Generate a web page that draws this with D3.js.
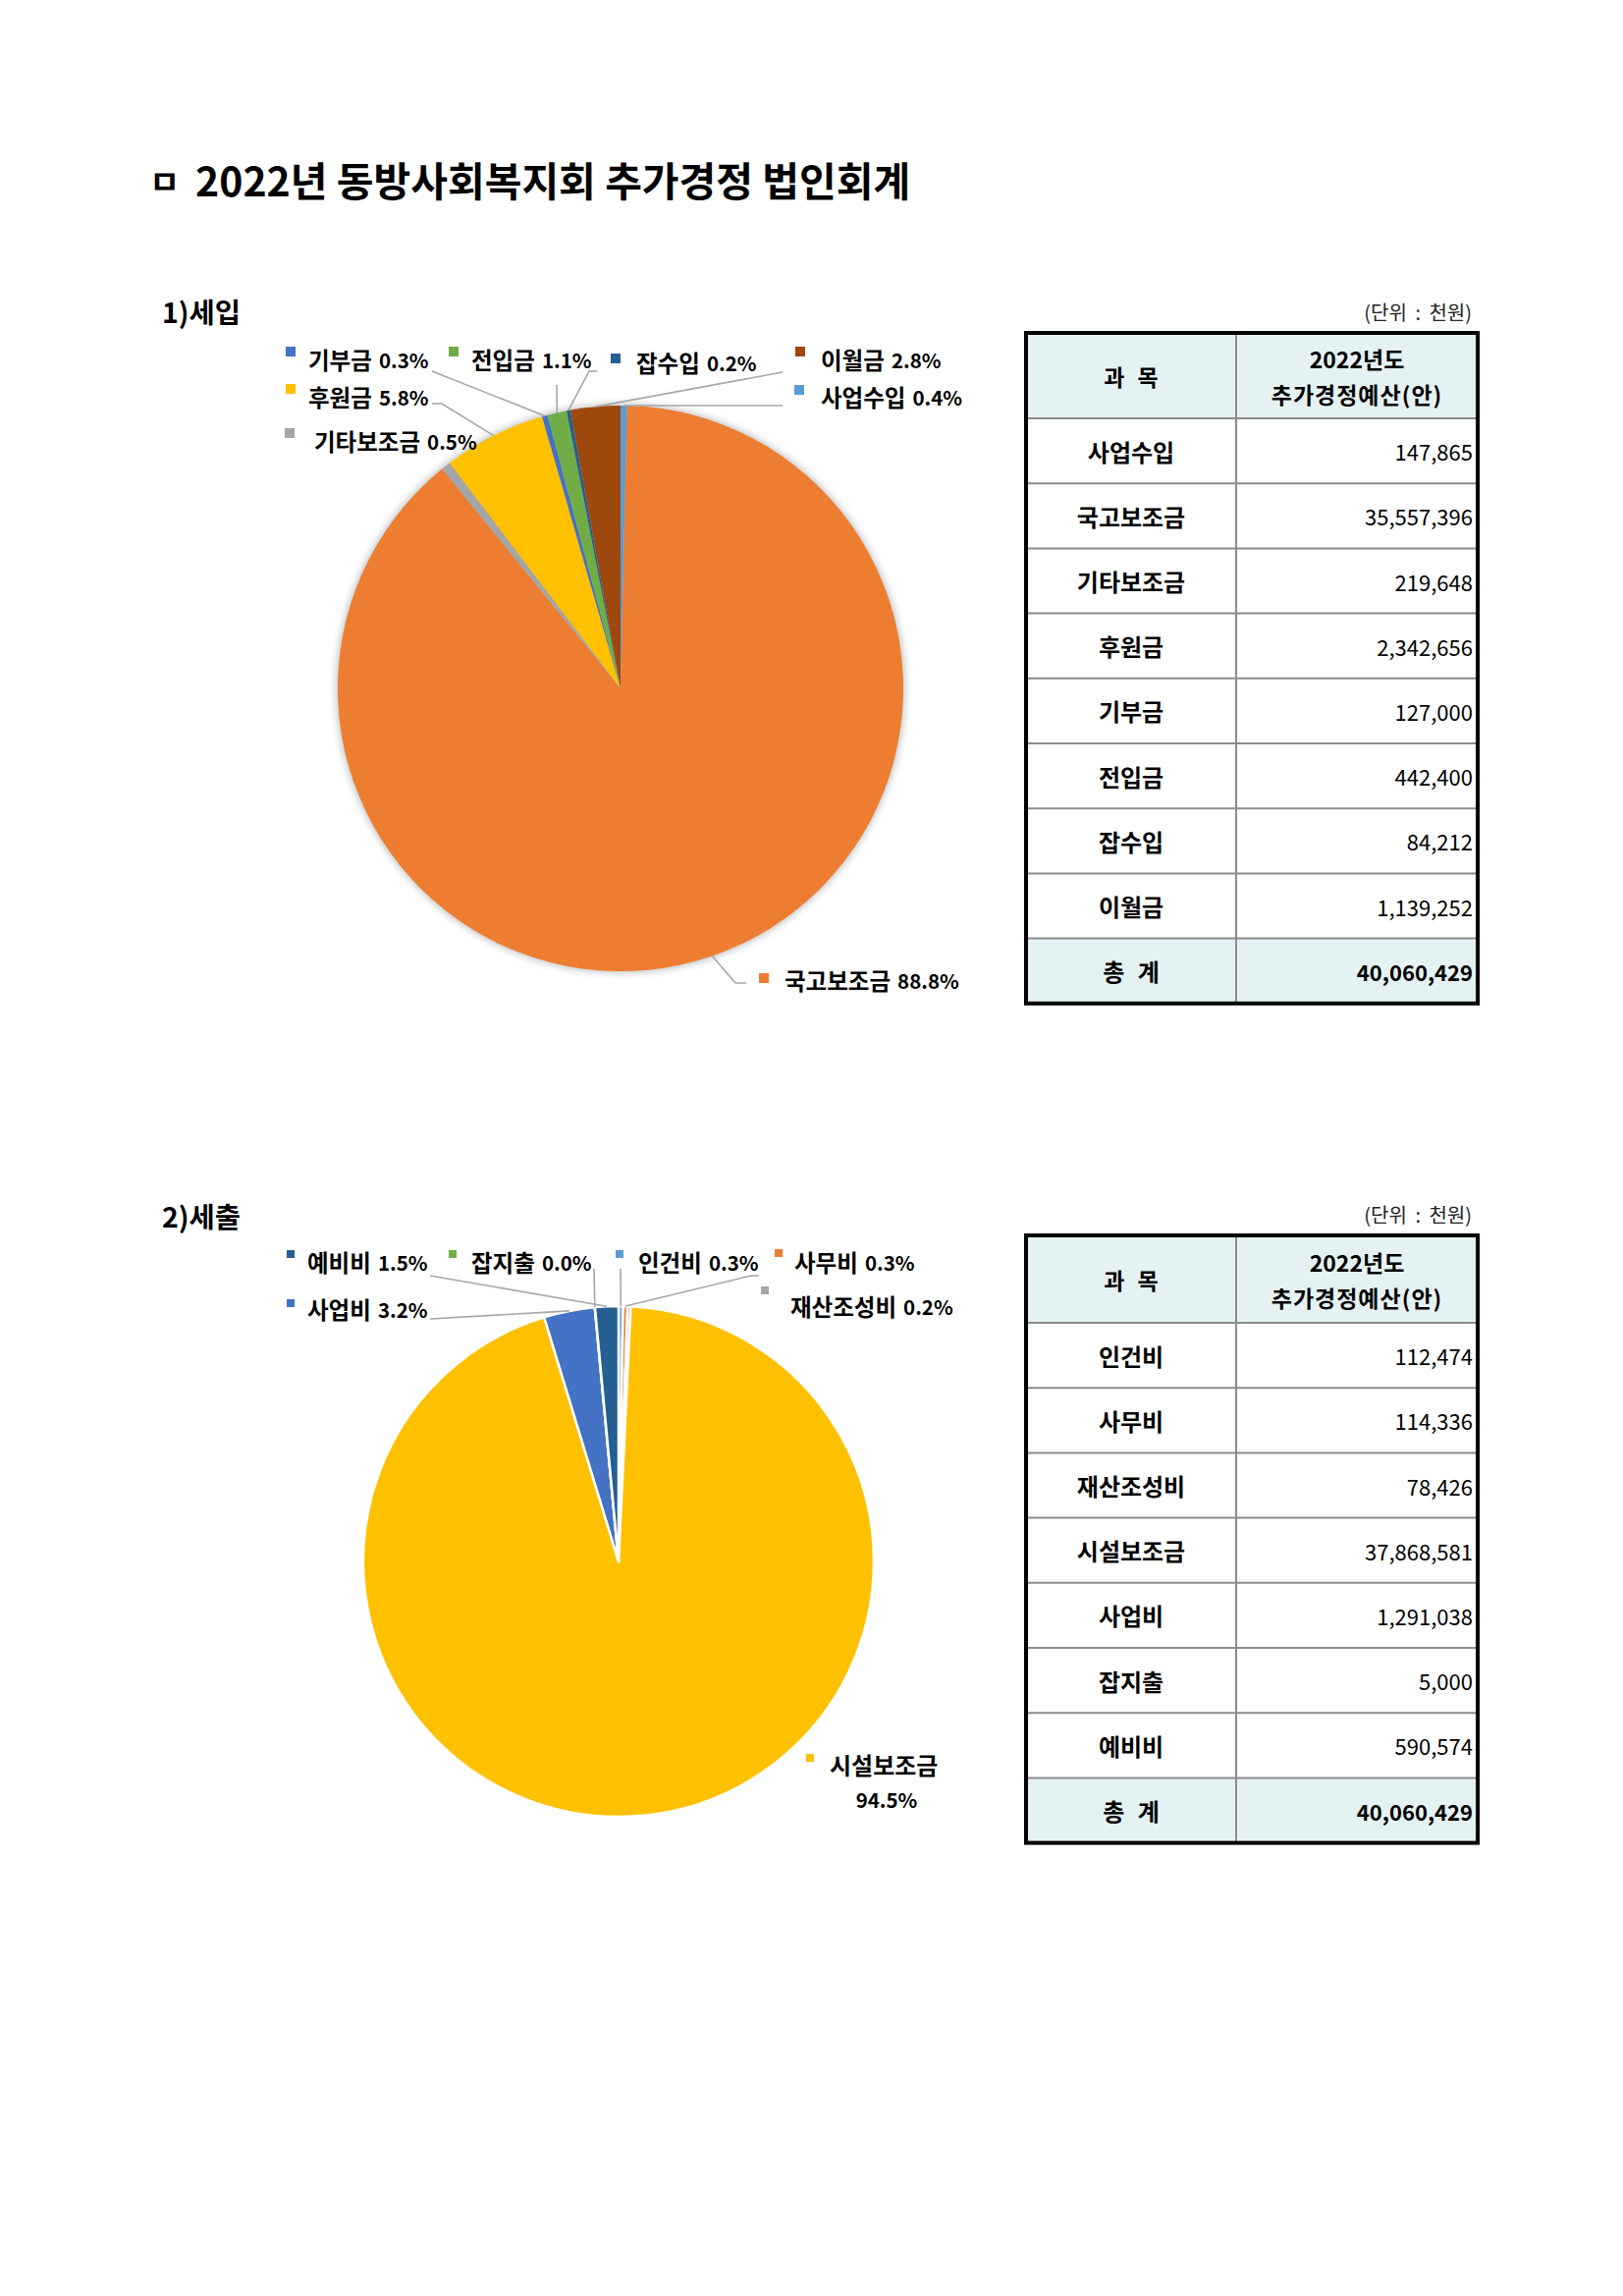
<!DOCTYPE html>
<html>
<head>
<meta charset="utf-8">
<script src="https://cdn.jsdelivr.net/npm/d3@7"></script>
<style>
  body { margin: 0; background: #fff; }
  svg { display: block; }
  text { font-family: "Noto Sans CJK KR", "Malgun Gothic", sans-serif; }
</style>
</head>
<body>
<svg id="page"></svg>
<script>
// data
const incomeItems = ["사업수입", "국고보조금", "기타보조금", "후원금", "기부금", "전입금", "잡수입", "이월금"];
const incomeValues = [147865, 35557396, 219648, 2342656, 127000, 442400, 84212, 1139252];

const expenseItems = ["인건비", "사무비", "재산조성비", "시설보조금", "사업비", "잡지출", "예비비"];
const expenseValues = [112474, 114336, 78426, 37868581, 1291038, 5000, 590574];

const officeColors = ["#5B9BD5", "#ED7D31", "#A5A5A5", "#FFC000", "#4472C4", "#70AD47", "#255E91", "#9E480E"];

// label placement (layout only): text start, marker center, leader start points
const incomeLabelPos = [
  { x: 836, y: 404, mx: 814, my: 397, lead: [[797, 413]] },
  { x: 799, y: 998, mx: 778, my: 996, lead: [[760, 1001], [749, 1001]] },
  { x: 320, y: 449, mx: 295, my: 441, lead: null },
  { x: 314, y: 404, mx: 296, my: 396, lead: [[440, 411], [450, 411]] },
  { x: 314, y: 366, mx: 296, my: 358, lead: [[440, 378]] },
  { x: 480, y: 366, mx: 462, my: 358, lead: [[567, 392]] },
  { x: 648, y: 369, mx: 627, my: 365, lead: [[608, 378], [600, 378]] },
  { x: 836, y: 366, mx: 815, my: 358, lead: [[797, 379]] },
];

const expenseLabelPos = [
  { x: 650, y: 1285, mx: 631, my: 1277, lead: [[632, 1292]] },
  { x: 809, y: 1285, mx: 793, my: 1276, lead: [[773, 1299], [765, 1299]] },
  { x: 805, y: 1330, mx: 779, my: 1314, lead: null },
  { x: 845, y: 1796, mx: 825, my: 1790, lead: null, twoLine: true },
  { x: 313, y: 1333, mx: 296, my: 1327, lead: [[438, 1343]] },
  { x: 480, y: 1285, mx: 461, my: 1277, lead: [[605, 1292]] },
  { x: 313, y: 1285, mx: 296, my: 1277, lead: [[438, 1299]] },
];

const W = 1653, H = 2338;
const fmtPct = d3.format(".1%");
const fmtNum = d3.format(",");

const svg = d3.select("#page").attr("width", W).attr("height", H);
svg.append("rect").attr("width", W).attr("height", H).attr("fill", "#fff");

const defs = svg.append("defs");
defs.append("filter").attr("id", "pieShadow")
  .attr("x", "-10%").attr("y", "-10%").attr("width", "120%").attr("height", "120%")
  .append("feGaussianBlur").attr("stdDeviation", 4);

// title
svg.append("text")
  .attr("x", 152).attr("y", 183)
  .attr("dominant-baseline", "central")
  .attr("font-size", 34).attr("font-weight", 700)
  .text("ㅁ");
svg.append("text")
  .attr("x", 199).attr("y", 182)
  .attr("dominant-baseline", "central")
  .attr("font-size", 41).attr("font-weight", 700)
  .text("2022년 동방사회복지회 추가경정 법인회계");

function drawPie(opts) {
  const { items, values, pos, cx, cy, r, markerSize, sliceStroke, shadow } = opts;
  const total = d3.sum(values);
  const pie = d3.pie().sort(null).value((d) => d);
  const arcs = pie(values);
  const arc = d3.arc().innerRadius(0).outerRadius(r);

  const g = svg.append("g").attr("transform", `translate(${cx},${cy})`);

  if (shadow) {
    g.append("circle")
      .attr("r", r + 1)
      .attr("fill", "#000")
      .attr("opacity", 0.28)
      .attr("filter", "url(#pieShadow)");
  }

  g.selectAll("path")
    .data(arcs)
    .join("path")
    .attr("d", arc)
    .attr("fill", (d, i) => officeColors[i])
    .attr("stroke", sliceStroke ? "#fff" : "none")
    .attr("stroke-width", sliceStroke ? 2.5 : 0)
    .attr("stroke-linejoin", "round");

  // leader lines
  const lines = svg.append("g");
  arcs.forEach((a, i) => {
    const p = pos[i];
    if (!p.lead) return;
    const mid = (a.startAngle + a.endAngle) / 2;
    const end = [cx + r * Math.sin(mid), cy - r * Math.cos(mid)];
    lines.append("path")
      .attr("d", d3.line()([...p.lead, end]))
      .attr("fill", "none")
      .attr("stroke", "#A6A6A6")
      .attr("stroke-width", 1.6);
  });

  // labels
  const labels = svg.append("g");
  arcs.forEach((a, i) => {
    const p = pos[i];
    labels.append("rect")
      .attr("x", p.mx - markerSize / 2)
      .attr("y", p.my - markerSize / 2)
      .attr("width", markerSize)
      .attr("height", markerSize)
      .attr("fill", officeColors[i]);
    const pct = fmtPct(values[i] / total);
    if (p.twoLine) {
      labels.append("text")
        .attr("x", p.x).attr("y", p.y)
        .attr("dominant-baseline", "central")
        .attr("font-size", 24).attr("font-weight", 700)
        .attr("fill", "#000")
        .text(items[i]);
      labels.append("text")
        .attr("x", p.x + 58).attr("y", p.y + 36)
        .attr("text-anchor", "middle")
        .attr("dominant-baseline", "central")
        .attr("font-size", 20.5).attr("font-weight", 700)
        .attr("fill", "#000")
        .text(pct);
    } else {
      const t = labels.append("text")
        .attr("x", p.x).attr("y", p.y)
        .attr("dominant-baseline", "central")
        .attr("font-weight", 700)
        .attr("fill", "#000");
      t.append("tspan").attr("font-size", 23.5).text(items[i]);
      t.append("tspan").attr("font-size", 20.5).attr("dx", 7).text(pct);
    }
  });
}

function drawTable(opts) {
  const { items, values, top, headH, rowH } = opts;
  const x0 = 1045, x1 = 1259, x2 = 1505;
  const total = d3.sum(values);
  const rows = items.map((d, i) => ({ name: d, value: values[i], total: false }));
  rows.push({ name: "총 계", value: total, total: true });

  const bottom = top + headH + rows.length * rowH;
  const g = svg.append("g");

  // unit
  g.append("text")
    .attr("x", 1499).attr("y", top - 22)
    .attr("text-anchor", "end")
    .attr("dominant-baseline", "central")
    .attr("font-size", 20).attr("fill", "#222")
    .attr("word-spacing", 4)
    .text("(단위 : 천원)");

  // header + total fills
  g.append("rect").attr("x", x0).attr("y", top).attr("width", x2 - x0).attr("height", headH).attr("fill", "#E4F2F4");
  g.append("rect").attr("x", x0).attr("y", bottom - rowH).attr("width", x2 - x0).attr("height", rowH).attr("fill", "#E4F2F4");

  // grid
  const grid = g.append("g").attr("stroke", "#8C8C8C").attr("stroke-width", 2);
  rows.forEach((r, i) => {
    const y = top + headH + i * rowH;
    grid.append("line").attr("x1", x0).attr("x2", x2).attr("y1", y).attr("y2", y);
  });
  grid.append("line").attr("x1", x1).attr("x2", x1).attr("y1", top).attr("y2", bottom);

  // outer border
  g.append("rect")
    .attr("x", x0).attr("y", top)
    .attr("width", x2 - x0).attr("height", bottom - top)
    .attr("fill", "none").attr("stroke", "#000").attr("stroke-width", 4);

  // header text
  const hc = top + headH / 2;
  g.append("text")
    .attr("x", (x0 + x1) / 2).attr("y", hc)
    .attr("text-anchor", "middle").attr("dominant-baseline", "central")
    .attr("font-size", 23).attr("font-weight", 700)
    .attr("word-spacing", 8)
    .text("과 목");
  g.append("text")
    .attr("x", (x1 + x2) / 2).attr("y", hc - 18)
    .attr("text-anchor", "middle").attr("dominant-baseline", "central")
    .attr("font-size", 23).attr("font-weight", 700)
    .text("2022년도");
  g.append("text")
    .attr("x", (x1 + x2) / 2).attr("y", hc + 18)
    .attr("text-anchor", "middle").attr("dominant-baseline", "central")
    .attr("font-size", 23).attr("font-weight", 700)
    .attr("letter-spacing", 1)
    .text("추가경정예산(안)");

  rows.forEach((r, i) => {
    const yc = top + headH + i * rowH + rowH / 2;
    g.append("text")
      .attr("x", (x0 + x1) / 2).attr("y", yc)
      .attr("text-anchor", "middle").attr("dominant-baseline", "central")
      .attr("font-size", 24).attr("font-weight", 700)
      .attr("word-spacing", 8)
      .text(r.name);
    g.append("text")
      .attr("x", 1500).attr("y", yc)
      .attr("text-anchor", "end").attr("dominant-baseline", "central")
      .attr("font-size", 22).attr("font-weight", r.total ? 700 : 400)
      .text(fmtNum(r.value));
  });
}

// section 1 : income
svg.append("text")
  .attr("x", 165).attr("y", 316)
  .attr("dominant-baseline", "central")
  .attr("font-size", 28.5).attr("font-weight", 700)
  .text("1)세입");

drawPie({
  items: incomeItems, values: incomeValues, pos: incomeLabelPos,
  cx: 632, cy: 701, r: 288, markerSize: 10, sliceStroke: false, shadow: true,
});
drawTable({ items: incomeItems, values: incomeValues, top: 339, headH: 87, rowH: 66.2 });

// section 2 : expense
svg.append("text")
  .attr("x", 165).attr("y", 1237)
  .attr("dominant-baseline", "central")
  .attr("font-size", 28.5).attr("font-weight", 700)
  .text("2)세출");

drawPie({
  items: expenseItems, values: expenseValues, pos: expenseLabelPos,
  cx: 630, cy: 1590, r: 260, markerSize: 8, sliceStroke: true, shadow: false,
});
drawTable({ items: expenseItems, values: expenseValues, top: 1258, headH: 89, rowH: 66.2 });
</script>
</body>
</html>
